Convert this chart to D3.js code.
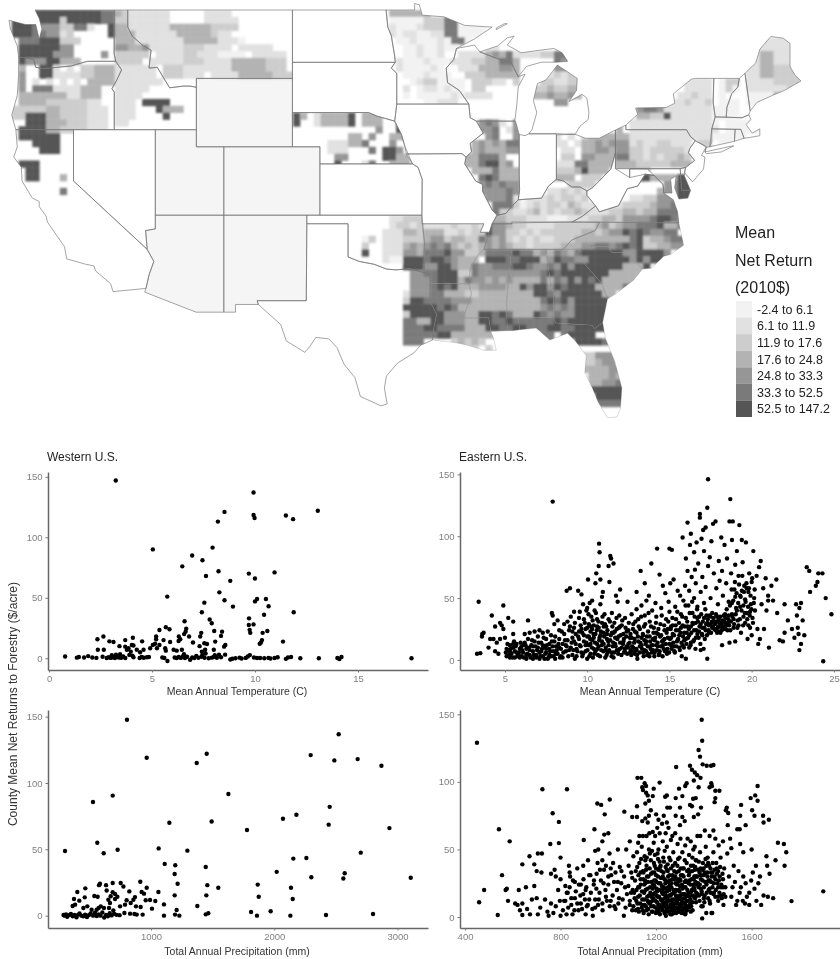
<!DOCTYPE html>
<html>
<head>
<meta charset="utf-8">
<script src="https://cdn.jsdelivr.net/npm/d3@7"></script>
<style>
html,body{margin:0;padding:0;background:#fff;}
svg{display:block;filter:blur(0.45px);}
text{font-family:"Liberation Sans",Arial,sans-serif;}
</style>
</head>
<body>
<div id="chart"></div>
<script>
//legend classes
var legendTitle = ["Mean","Net Return","(2010$)"];
var legendLabels = ["-2.4 to 6.1","6.1 to 11.9","11.9 to 17.6","17.6 to 24.8","24.8 to 33.3","33.3 to 52.5","52.5 to 147.2"];
var shades = ["#f2f2f2","#e1e1e1","#cdcdcd","#b3b3b3","#969696","#7a7a7a","#555555"];

//state outlines, lon/lat
var states = {
WA:[[-122.8,49],[-117.03,49],[-117.04,46.42],[-116.92,46],[-118.98,46],[-119.3,45.93],[-120.2,45.72],[-121.2,45.65],[-122.2,45.57],[-122.75,45.65],[-122.9,46.1],[-123.4,46.2],[-124,46.25],[-124.1,46.9],[-124.3,47.3],[-124.6,47.9],[-124.7,48.4],[-123.5,48.15],[-122.75,48.15],[-122.5,47.3],[-122.3,47.9],[-122.5,48.5]],
OR:[[-124,46.25],[-123.4,46.2],[-122.9,46.1],[-122.75,45.65],[-122.2,45.57],[-121.2,45.65],[-120.2,45.72],[-119.3,45.93],[-118.98,46],[-116.92,46],[-116.5,45.5],[-116.85,44.9],[-117.2,44.4],[-117.03,44.2],[-117.03,42],[-124.2,42],[-124.5,42.85],[-124.1,44],[-124,45.2]],
CA:[[-124.2,42],[-120,42],[-120,39],[-114.63,35],[-114.15,34.3],[-114.5,33.5],[-114.72,32.72],[-117.12,32.53],[-117.3,33],[-118.4,33.75],[-118.5,34.03],[-119.2,34.15],[-120.5,34.45],[-120.65,35.15],[-121.9,36.6],[-122,36.95],[-122.5,37.5],[-122.5,37.8],[-123,38],[-123.75,39],[-123.8,39.8],[-124.35,40.4],[-124.1,41]],
NV:[[-120,42],[-114.04,42],[-114.04,36.2],[-114.75,36.1],[-114.63,35],[-120,39]],
ID:[[-117.03,49],[-116.05,49],[-116.05,48],[-115.7,47.45],[-114.9,46.9],[-114.35,46.65],[-114.5,45.6],[-113.9,45.65],[-113.45,45.05],[-113,44.45],[-112,44.55],[-111.5,44.55],[-111.05,44.48],[-111.05,42],[-117.03,42],[-117.03,44.2],[-117.2,44.4],[-116.85,44.9],[-116.5,45.5],[-116.92,46],[-117.04,46.42]],
MT:[[-116.05,49],[-104.05,49],[-104.05,45],[-111.05,45],[-111.05,44.48],[-111.5,44.55],[-112,44.55],[-113,44.45],[-113.45,45.05],[-113.9,45.65],[-114.5,45.6],[-114.35,46.65],[-114.9,46.9],[-115.7,47.45],[-116.05,48]],
WY:[[-111.05,45],[-104.05,45],[-104.05,41],[-111.05,41]],
UT:[[-114.04,42],[-111.05,42],[-111.05,41],[-109.05,41],[-109.05,37],[-114.04,37]],
CO:[[-109.05,41],[-102.05,41],[-102.05,37],[-109.05,37]],
AZ:[[-114.04,37],[-109.05,37],[-109.05,31.33],[-111.07,31.33],[-114.81,32.5],[-114.72,32.72],[-114.5,33.5],[-114.15,34.3],[-114.63,35],[-114.75,36.1],[-114.04,36.2]],
NM:[[-109.05,37],[-103,37],[-103.04,32],[-106.62,32],[-106.53,31.78],[-108.2,31.78],[-108.2,31.33],[-109.05,31.33]],
ND:[[-104.05,49],[-97.23,49],[-97.1,48],[-96.85,47.5],[-96.6,46.3],[-96.56,45.94],[-104.05,45.94]],
SD:[[-104.05,45.94],[-96.56,45.94],[-96.85,45.6],[-96.45,45.3],[-96.45,43.5],[-96.6,42.5],[-97.9,42.8],[-98.5,43],[-104.05,43]],
NE:[[-104.05,43],[-98.5,43],[-97.9,42.8],[-96.6,42.5],[-96.1,41.7],[-95.85,41],[-95.3,40],[-102.05,40],[-102.05,41],[-104.05,41]],
KS:[[-102.05,40],[-95.3,40],[-94.9,39.8],[-94.6,39.1],[-94.62,37],[-102.05,37]],
OK:[[-103,37],[-94.62,37],[-94.43,35.4],[-94.48,33.64],[-95.5,33.88],[-96.5,33.8],[-97.2,33.85],[-98.1,34.13],[-99.2,34.3],[-100,34.56],[-100,36.5],[-103,36.5]],
TX:[[-103,36.5],[-100,36.5],[-100,34.56],[-99.2,34.3],[-98.1,34.13],[-97.2,33.85],[-96.5,33.8],[-95.5,33.88],[-94.48,33.64],[-94.04,33.55],[-94.04,33],[-94.04,32],[-93.55,31.2],[-93.75,30.4],[-93.85,29.7],[-94.7,29.4],[-95.2,28.95],[-96.4,28.35],[-97.2,27.6],[-97.35,26.9],[-97.15,25.96],[-97.6,25.85],[-99.1,26.4],[-99.5,27.5],[-100.3,28.3],[-100.8,29.25],[-101.4,29.77],[-102.35,29.85],[-102.8,29.3],[-103.15,28.98],[-104.5,29.65],[-104.9,30.6],[-106.53,31.78],[-106.62,32],[-103.04,32]],
MN:[[-97.23,49],[-95.15,49],[-95.15,49.38],[-94.8,49.3],[-94.6,48.7],[-93,48.6],[-91.5,48.1],[-89.5,48],[-90.8,47.3],[-92.1,46.75],[-92.3,46.1],[-92.85,45.6],[-92.75,44.75],[-91.9,44.3],[-91.2,43.5],[-96.45,43.5],[-96.45,45.3],[-96.85,45.6],[-96.56,45.94],[-96.6,46.3],[-96.85,47.5],[-97.1,48]],
WI:[[-92.1,46.75],[-90.8,46.95],[-90.4,46.55],[-89.1,46.15],[-88.1,45.9],[-87.6,45.1],[-87.1,45.25],[-87.6,44.5],[-87.7,43.5],[-87.85,42.5],[-90.65,42.5],[-91.1,42.7],[-91.2,43.5],[-91.9,44.3],[-92.75,44.75],[-92.85,45.6],[-92.3,46.1]],
IA:[[-96.45,43.5],[-91.2,43.5],[-91.1,42.7],[-90.65,42.5],[-90.15,41.8],[-91.1,41.2],[-91,40.7],[-91.4,40.4],[-91.7,40.6],[-95.75,40.58],[-95.85,41],[-96.1,41.7],[-96.6,42.5]],
MO:[[-95.75,40.58],[-91.7,40.6],[-91.4,40.4],[-91.5,40],[-90.7,39],[-90.2,38.8],[-90.2,38.4],[-89.5,37.3],[-89.15,37],[-89.5,36.5],[-89.7,36],[-90.37,36],[-90.1,36.5],[-94.62,36.5],[-94.62,37],[-94.6,39.1],[-94.9,39.8],[-95.3,40]],
AR:[[-94.62,36.5],[-90.1,36.5],[-90.37,36],[-89.7,36],[-90.1,35],[-90.6,34.6],[-91.1,33.9],[-91.2,33],[-94.04,33],[-94.04,33.55],[-94.48,33.64],[-94.43,35.4]],
LA:[[-94.04,33],[-91.2,33],[-91,32.4],[-91.6,31],[-89.75,31],[-89.6,30.2],[-89.4,29.8],[-89.2,29.1],[-90.1,29.1],[-91.3,29.4],[-92.2,29.55],[-93.85,29.7],[-93.75,30.4],[-93.55,31.2],[-94.04,32]],
MS:[[-90.1,35],[-88.2,35],[-88.1,34.9],[-88.45,31.9],[-88.4,30.25],[-89.6,30.2],[-89.75,31],[-91.6,31],[-91,32.4],[-91.2,33],[-91.1,33.9],[-90.6,34.6]],
AL:[[-88.2,35],[-85.6,35],[-85.2,32.85],[-85,32.3],[-85.05,31],[-87.6,31],[-87.5,30.3],[-88,30.25],[-88.4,30.25],[-88.45,31.9],[-88.1,34.9]],
GA:[[-85.6,35],[-83.1,35],[-83.35,34.7],[-82.5,33.9],[-81.5,33],[-81.1,32.1],[-81.45,30.72],[-82.05,30.36],[-82.2,30.57],[-84.86,30.7],[-85.05,31],[-85,32.3],[-85.2,32.85]],
FL:[[-87.6,31],[-85.05,31],[-84.86,30.7],[-82.2,30.57],[-82.05,30.36],[-81.45,30.72],[-81.25,29.8],[-80.55,28.4],[-80.05,26.9],[-80.15,25.7],[-80.4,25.2],[-81.1,25.15],[-81.8,26.1],[-82.2,26.9],[-82.75,27.8],[-82.65,28.8],[-83.4,29.6],[-84,30.1],[-85.3,29.7],[-86.3,30.4],[-87.5,30.3]],
SC:[[-83.35,34.7],[-83.1,35],[-82.3,35.2],[-81.05,35.15],[-80.8,34.82],[-79.67,34.8],[-78.55,33.85],[-79.2,33.2],[-80.5,32.4],[-81.1,32.1],[-81.5,33],[-82.5,33.9]],
NC:[[-84.32,35],[-83.1,35],[-82.3,35.2],[-81.05,35.15],[-80.8,34.82],[-79.67,34.8],[-78.55,33.85],[-77.9,33.9],[-77,34.6],[-76.5,34.7],[-75.55,35.25],[-75.9,36.55],[-81.68,36.59],[-82,36.1],[-83.7,35.55]],
TN:[[-90.1,35],[-84.32,35],[-83.7,35.55],[-82,36.1],[-81.68,36.59],[-83.68,36.6],[-88.07,36.55],[-88.07,36.5],[-89.5,36.5],[-89.7,36]],
KY:[[-89.5,36.5],[-88.07,36.5],[-88.07,36.6],[-83.68,36.6],[-82.9,36.95],[-81.97,37.54],[-82.6,38.17],[-82.6,38.42],[-83.1,38.65],[-83.7,38.65],[-84.3,39],[-84.82,39.1],[-85.4,38.7],[-85.9,38],[-86.8,37.95],[-87.6,37.9],[-88.1,37.5],[-88.5,37.1],[-89.15,37]],
VA:[[-83.68,36.6],[-75.9,36.55],[-76,37.2],[-76.3,37.9],[-77,38.3],[-77.05,38.8],[-77.7,39.32],[-78.35,39.4],[-78.9,38.7],[-79.65,38.55],[-80.3,37.55],[-81.68,37.2],[-81.97,37.54],[-82.9,36.95]],
WV:[[-81.97,37.54],[-81.68,37.2],[-80.3,37.55],[-79.65,38.55],[-78.9,38.7],[-78.35,39.4],[-77.7,39.32],[-78.2,39.7],[-79.48,39.7],[-79.48,39.2],[-80.52,39.72],[-80.52,40.63],[-80.85,39.7],[-81.7,39],[-82.2,38.6],[-82.6,38.42],[-82.6,38.17]],
OH:[[-84.82,41.7],[-83.45,41.73],[-82.7,41.5],[-81.7,41.5],[-80.52,41.98],[-80.52,40.63],[-80.85,39.7],[-81.7,39],[-82.2,38.6],[-82.6,38.42],[-83.1,38.65],[-83.7,38.65],[-84.3,39],[-84.82,39.1]],
IN:[[-87.53,41.72],[-87.1,41.65],[-86.82,41.76],[-84.82,41.76],[-84.82,39.1],[-85.4,38.7],[-85.9,38],[-86.8,37.95],[-87.6,37.9],[-87.5,38.5],[-87.53,39.3]],
IL:[[-90.65,42.5],[-87.8,42.5],[-87.53,41.72],[-87.53,39.3],[-87.5,38.5],[-87.6,37.9],[-88.1,37.5],[-88.5,37.1],[-89.15,37],[-89.5,37.3],[-90.2,38.4],[-90.2,38.8],[-90.7,39],[-91.5,40],[-91.4,40.4],[-91,40.7],[-91.1,41.2],[-90.15,41.8]],
MIL:[[-86.82,41.76],[-84.82,41.76],[-83.45,41.73],[-83.1,42.2],[-82.5,42.6],[-82.45,43],[-82.6,43.85],[-82.95,44.07],[-83.9,43.65],[-83.35,44.3],[-83.3,45],[-84.75,45.78],[-85.1,45.4],[-85.6,44.9],[-86.2,44.7],[-86.5,43.7],[-86.25,43],[-86.6,42]],
MIU:[[-90.4,46.55],[-89.1,46.9],[-88.4,47.37],[-87.9,47.47],[-88.4,46.95],[-87.4,46.5],[-86,46.65],[-85,46.75],[-84.4,46.5],[-84,46],[-84.8,45.95],[-85.9,45.95],[-87,45.7],[-87.6,45.1],[-88.1,45.9],[-89.1,46.15]],
MII:[[-89.2,47.85],[-88.4,48.2],[-88.6,48.2],[-89.2,47.95]],
PA:[[-80.52,41.98],[-79.76,42.27],[-79.76,42],[-75.35,42],[-75.05,41.6],[-74.7,41.36],[-75.1,40.9],[-75.2,40.65],[-74.75,40.2],[-75.4,39.8],[-75.8,39.72],[-80.52,39.72]],
NY:[[-79.76,42],[-79.76,42.27],[-78.9,42.9],[-79.05,43.27],[-76.8,43.3],[-76.2,43.55],[-76.3,44.1],[-75,44.95],[-74.7,45],[-73.35,45],[-73.4,43.6],[-73.25,42.75],[-73.5,42.05],[-73.5,41.3],[-73.65,41],[-73.9,40.97],[-74,40.7],[-72,41.05],[-71.9,41.05],[-72.8,40.7],[-73.9,40.6],[-74,40.7],[-73.9,41],[-74.7,41.36],[-75.05,41.6],[-75.35,42]],
NJ:[[-74.7,41.36],[-73.9,41],[-74.25,40.5],[-74,40.4],[-74.1,39.7],[-74.9,38.95],[-75.5,39.5],[-75.4,39.8],[-74.75,40.2],[-75.2,40.65],[-75.1,40.9]],
DE:[[-75.8,39.72],[-75.4,39.8],[-75.5,39.3],[-75.05,38.45],[-75.7,38.46]],
MD:[[-79.48,39.72],[-75.8,39.72],[-75.7,38.46],[-75.05,38.45],[-75.25,38],[-75.9,37.95],[-76.2,38.6],[-76.1,39.3],[-76.5,39.1],[-76.4,38.3],[-77,38.3],[-77.05,38.8],[-77.7,39.32],[-78.35,39.4],[-79.48,39.2]],
CT:[[-73.5,42.05],[-71.8,42.02],[-71.85,41.32],[-73.65,41]],
RI:[[-71.8,42.02],[-71.38,42.02],[-71.15,41.5],[-71.85,41.32]],
MA:[[-73.5,42.05],[-73.25,42.75],[-71.3,42.7],[-70.8,42.87],[-70.65,42.6],[-71,42.3],[-70.55,41.8],[-70,42.05],[-70,41.65],[-70.7,41.55],[-71.15,41.5],[-71.38,42.02]],
VT:[[-73.35,45],[-71.5,45],[-71.6,44.5],[-72.05,44.1],[-72.4,43.3],[-72.45,42.73],[-73.25,42.75],[-73.4,43.6]],
NH:[[-71.5,45],[-71.08,45.3],[-70.7,43.1],[-70.8,42.87],[-71.3,42.7],[-72.45,42.73],[-72.4,43.3],[-72.05,44.1],[-71.6,44.5]],
ME:[[-71.08,45.3],[-70.3,45.9],[-70,46.7],[-69.2,47.45],[-68.3,47.35],[-67.8,47.05],[-67.8,45.7],[-67.45,45.2],[-67,44.85],[-68.2,44.3],[-69.1,44],[-70.2,43.6],[-70.7,43.1]]
};
var paleStates = ["WY","UT","CO","AZ","NM"];
var noDataStates = ["ND","SD","NV","KS","IA","MO","IN","WV","NJ"];
var faintBorders = ["LA","MS","AL","GA","SC","AR","FL","NC"];

//county shading: class per half degree lon x 0.4 degree lat cell, . is no fill
var shadeWest = [-125,49,[
"....66666666665532111111.....1111",
".66666662666665522111111.....11111",
".6665444225 51..633111111333333222 2",
".66655441 2.....6333111111333332 11",
"..55566622 2.....333 1111111333331110",
"..66666644......44334111112221111.11111",
"..66666444....4.22222.1111221110000.11111",
"..644466333.....2222.11111222111133333222",
"..3..661.1.22333111111.222111111133333222",
"..4..66111122333111111.222111.111133333222",
"..4.1.1.1.1.3333 1111111",
"..4.55511113 33..11111",
"..33333331133 3..1111",
"..33332222221 1..111.6666",
".22222332222111.111...6333",
".22666332222111.111....6",
"...666333222111.11",
"..666633222 2111",
"..666666",
"....6666",
".....666",
"",
"..666",
"...66",
"...66...3",
"",
"........5"
].map(function(r){return r.replace(/ /g,"");})];
var shadeNebraska = [-104,43,[
"63.133336.333",
"6..133336.333..6",
"............4..6",
"........33.4..336",
".....111335...4",
".....111...5.664",
"......44.....6633",
"......6...15..333"
]];
var shadeLakes = [-97.5,49,[
".333333",
".00000222550000",
".10001222550000",
".10110011550000",
"..00100010550",
"...00100100....11",
"...00100 1..1111343511112 2555",
"..1000100011122335 53.....544",
"..1000010..111333443.....441",
"...0001000..222333 33....12122",
"....0122 0000.22211.2...221122",
"...1.0110100.22.......2232233",
"...0.00000101111......3343343",
"......00111..............44"
].map(function(r){return r.replace(/ /g,"");})];
var shadeIllinois = [-92,42.6,[
"...4541.4.",
"...445.14.",
"....45..4.",
"..3434355.",
"..3433344.",
".335553...",
".3356634",
"..3335333",
"...565333",
"...454544",
"...444454",
"....4445.",
".....555.",
".....5..."
]];
var shadeNewEngland = [-80,47.4,[
"....................11111",
"...................111111",
"...................133111",
"..................113311 1",
"..................11332222",
"..................11332222",
".........1111.022.11112222",
".........1111.020.1111112",
"........11211.0...000033",
".......112112.000.000",
"..455411111110000",
"..33226111111 0000",
".1111111111110.00000",
".1111111111111.00000",
"..........11100000",
"...........22.00"
].map(function(r){return r.replace(/ /g,"");})];
var shadeOhioPenn = [-85,42.2,[
".........3",
"1.1.233333 3111111111",
"11.1334344 41211221 11",
".11.334434 42212222 21",
".22.443335 52212122 32",
"1115533333 33222223 33",
"22236333.3 33 33......",
"333.222....66633336 6",
"..2222..........446 6",
"...............3446 6",
"...........11224446 6",
"........11222234456 6",
"......1122332335556"
].map(function(r){return r.replace(/ /g,"");})];
var shadeKentucky = [-89.5,38.6,[
"........112121",
"...10111212212",
".11201212213211",
"3221123121223211"
]];
var shadeOkPatch = [-99,35.8,["02","2.","6."]];
var shadeSouth = [-98,37,[
"..11222.........533222111000111223324444566543",
"..1221211112112164432211112222223423445556335 4",
".11133233311212264422121222222332344656544 55",
".11122234423322543 421212112223333333356233455",
".111343454532323434322122223334455456562233444",
".1114435556442235555655343543566666644 66664",
".10066656654333.666556663465544666666464666",
"....6664466433544 55566544 54646666666333 6",
".....445566622 54444444445656 6666663333 3",
".....44456663544 34343333535464 65633333",
".....4445656333 4444336466465 6666333355",
"....14445533322 333333336654 66666633",
"....2665555444 33 33333333565646666 63",
"....6666656533 3333333333454546 666665",
"....2666 66444 33 66565333 654544 66666",
"....5533664443 36655655555 5656 66666",
"....55566555533 3 6655665556 6556 6666",
"....55555663333333...... 55.56666",
"....555....23232.........5...66665",
".............22.2."
].map(function(r){return r.replace(/ /g,"");})];
var shadeFlorida = [-83,29,[
"22444","22344","333344",".33343",".33445",".666666","..66666","..55555"
]];
var shadeBlocks = [shadeWest,shadeNebraska,shadeLakes,shadeNewEngland,shadeOhioPenn,shadeKentucky,shadeIllinois,shadeOkPatch,shadeSouth,shadeFlorida];

//scatter values, flat x,y pairs
var westTemp = [3.24,147,9.93,137,8.52,121,8.2,113,13.05,122,11.5,118,11.85,115,9.93,118.5,9.98,116,5.04,90,7.94,91.5,6.95,85,7.45,81,6.47,76,8.23,72,7.62,68,9.7,70,10.95,71,10,66,8.8,64,5.74,51,8.27,54.5,8.52,48,7.54,46,8.93,42.7,10.1,49,10,47,10.53,49,10.66,43,10.44,36,7.42,38,11.88,38,9.71,33,6.58,30.6,7.8,32,7.9,29,9.7,27.5,9.93,28,9.74,23.5,9.77,21,10.6,22.5,10.37,21,5.67,25.6,5.85,24,5.36,23.4,6.66,24.5,6.63,22,6.56,20,8.02,22.6,8.4,22,8.35,18.5,7.39,21,7.34,18,6.3,18,6.8,18,2.64,18,2.35,15.7,2.93,14,3.13,13.5,3.7,15,4.07,17,4.52,14,5.2,18,5.2,15.7,5.56,15,6.29,14.3,6.37,15.7,5.88,13.5,8.07,13.8,6.99,13,7.54,12.4,7.67,11.8,7.31,10,8.56,11,8.5,9.6,11.36,13.8,10.34,15,10.29,13,10.23,12,3.42,10,3.7,9.6,4.02,11,3.86,8.3,4.1,10.5,3.78,7,3.97,5.5,4.26,7,4.42,5,4.59,7,2.37,7,2.66,7,4.91,8.3,5.04,11,5.15,12,5.36,11,5.24,8.3,5.64,8.3,5.67,6.3,6.05,7,6.45,7,6.2,6.3,8,7,7.58,7,7.42,5.5,
0.78,1.4,1.35,0.5,1.45,1,1.7,0.6,1.9,1.8,2.1,0.6,2.3,0.3,2.6,1.2,2.8,0.2,2.9,0.8,3,0.3,3.05,2.5,3.1,0.8,3.2,0.2,3.25,3,3.3,1.2,3.4,0.5,3.45,3.4,3.5,0.4,3.6,1.5,3.7,0.2,3.9,2.8,4.05,2.2,4.1,0.8,4.4,0.2,4.5,1,4.6,0.4,4.75,0.8,4.85,1,5.5,0.6,5.6,0.2,5.75,-2.2,6.1,0.6,6.2,0.2,6.3,1,6.4,0.3,6.5,1.6,6.55,3.4,6.6,0.2,6.7,1.2,6.85,-1.2,6.95,0.6,7.05,0.2,7.15,2,7.25,0.4,7.4,1.2,7.45,3,7.55,0.4,7.6,4,7.75,0,7.9,0.5,8,1,8.05,2.5,8.15,0.4,8.25,3,8.35,0.8,8.55,3,8.8,-1,8.9,-0.4,9.05,0,9.25,0.5,9.35,-0.2,9.55,0.3,9.65,1.5,9.75,2.6,9.95,0.6,10.1,0.2,10.25,0.2,10.45,0,10.65,0.3,10.75,-0.2,10.95,0.2,11.1,0.8,11.5,-0.5,11.6,0.6,11.75,1,12.2,0,13.1,0,14,0.2,14.1,-0.6,14.2,1,17.6,0];
var eastTemp = [3.3,5,3.5,5.5,3.4,47,3.6,19,3.62,21,3.7,22,4,10,4.1,17,4.2,36,4.3,17,4.4,27,4.4,7,4.5,14,4.6,5,4.7,30,4.7,17,4.8,28,4.9,44,4.9,25,5,18,5.1,3,5.2,34,5.2,8,5.3,2,5.3,12,5.4,5,5.5,31,5.5,21,5.5,10,5.6,2,5.6,7,5.7,13,5.8,4,5.9,9,6,3,6,11,6.1,6,6.2,14,6.2,21,6.3,1,6.3,9,6.4,32,6.4,17,6.5,4,6.5,22,6.6,12,6.7,1,6.7,7,6.8,23,6.8,15,6.9,4,7,10,7,19,7.1,1,7.1,24,7.2,7,7.2,14,7.3,22,7.3,3,7.4,1,7.4,11,7.5,17,7.5,6,7.6,23,7.6,1,7.7,13,7.7,9,7.8,3,7.8,20,7.85,38,7.9,36,7.9,128,7.95,7,8,15,8,29,8.05,1,8.1,11,8.2,5,8.2,32,8.3,17,8.3,24,8.4,9,8.4,3,8.5,13,8.6,21,8.6,29,8.7,7,8.75,56,8.8,31,8.8,16,8.9,24,8.95,58,9,10,9,35,9.1,4,9.1,18,9.2,39,9.2,26,9.25,1,9.3,13,9.3,21,9.4,7,9.45,56,9.5,34,9.5,17,9.55,39,9.6,28,9.6,11,9.65,53,9.7,3,9.7,22,9.75,45,9.8,15,9.8,33,9.9,7,9.9,25,9.95,40,10,19,10,42,10,1,10.05,65,10.1,12,10.1,29,10.15,46,10.2,5,10.2,23,10.25,35,10.3,48,10.3,16,10.35,2,10.4,28,10.4,9,10.45,40,10.5,62,10.5,21,10.55,70,10.6,33,10.6,13,10.65,4,10.7,26,10.7,76,10.72,94,10.75,87,10.75,18,10.8,45,10.8,65,10.85,8,10.9,30,10.9,51,10.95,55,11,22,11,13,11.05,37,11.1,2,11.15,27,11.2,17,11.25,6,11.3,33,11.3,76,11.35,63,11.4,84,11.45,82,11.5,22,11.5,38,11.55,11,11.6,78,11.6,2,11.65,30,11.7,18,11.75,52,11.8,25,11.85,47,11.9,8,11.95,36,12,57,12,14,12.1,28,12.2,21,12.25,6,12.3,34,12.4,11,12.45,47,12.5,24,12.6,18,12.65,8,12.7,37,12.8,29,12.85,14,12.9,5,13,41,13,55,13,22,13.05,1,13.1,33,13.2,11,13.25,72,13.3,44,13.3,18,13.4,6,13.45,27,13.5,36,13.5,62,13.55,13,13.6,48,13.65,4,13.7,23,13.75,52,13.8,31,13.85,9,13.9,78,13.95,40,14,17,14.05,26,14.1,6,14.15,46,14.2,35,14.2,12,14.25,90,14.3,21,14.35,4,14.4,69,14.45,29,14.5,42,14.55,15,14.6,60,14.65,9,14.7,24,14.75,54,14.8,33,14.85,5,14.9,18,14.95,47,15,90,15,39,15.05,62,15.1,27,15.1,12,15.15,89,15.2,21,15.25,65,15.3,7,15.35,43,15.4,33,15.45,15,15.5,56,15.55,24,15.6,10,15.65,52,15.7,37,15.75,3,15.8,99,15.8,28,15.85,48,15.9,16,15.95,60,16,1,16,34,16,82,16.05,22,16.1,72,16.1,111,16.15,44,16.2,10,16.2,56,16.25,93,16.3,27,16.3,102,16.35,67,16.4,38,16.45,15,16.5,87,16.5,50,16.55,73,16.6,30,16.6,62,16.65,95,16.7,21,16.7,43,16.75,78,16.8,35,16.85,115,16.85,118,16.9,8,16.9,55,16.95,98,17,26,17,67,17.05,105,17.1,46,17.1,88,17.15,17,17.2,59,17.2,107,17.25,36,17.3,1,17.3,123,17.35,146,17.35,76,17.4,28,17.45,83,17.5,50,17.55,96,17.6,38,17.65,110,17.7,70,17.75,31,17.8,112,17.85,58,17.9,22,17.95,45,18,80,18,33,18.05,64,18.1,27,18.15,99,18.2,12,18.2,72,18.25,52,18.3,36,18.35,93,18.4,25,18.45,62,18.5,82,18.55,30,18.6,47,18.65,112,18.65,14,18.7,130,18.75,70,18.8,37,18.8,97,18.85,112,18.9,26,18.95,57,19,77,19,15,19.05,42,19.1,88,19.15,32,19.2,68,19.25,109,19.3,52,19.35,22,19.4,97,19.45,79,19.5,44,19.55,60,19.6,30,19.65,95,19.7,38,19.75,17,19.8,55,19.85,70,19.9,26,19.95,45,20,63,20,20,20.05,34,20.1,88,20.15,50,20.2,40,20.3,68,20.35,25,20.4,13,20.45,75,20.5,17,20.55,80,20.6,45,20.7,58,20.75,25,20.85,66,20.9,40,21,52,21,48,21.05,10,21.2,60,21.3,48,21.5,65,21.55,38,21.7,16,21.9,15,22,45,22,22,22.2,32,22.45,25,22.6,18,22.7,45,22.75,36,22.8,26,22.85,21,22.9,42,22.9,8,23,46,23,13,23.1,32,23.2,20,23.35,75,23.5,72,23.55,55,23.9,60,24,63,24.05,70,24.3,70,24.5,50,24.85,37,24.35,-1];
var eastTempMass = [5.05,6,5.15,13,5.25,4,5.35,9,5.45,2,5.55,15,5.65,11,5.75,3,5.85,6,5.95,14,6.05,8,6.15,2,6.25,12,6.35,5,6.45,10,6.55,2,6.65,16,6.75,4,6.85,11,6.95,8,7.05,14,7.15,3,7.25,9,7.35,18,7.45,5,7.55,12,7.65,2,7.75,7,7.85,15,7.95,3,8.05,19,8.15,8,8.25,13,8.35,2,8.45,23,8.55,6,8.65,16,8.75,11,8.85,3,8.95,27,9.05,14,9.15,8,9.25,30,9.35,3,9.45,19,9.55,12,9.65,25,9.75,5,9.85,30,9.95,14,10.02,8,10.08,37,10.13,3,10.18,17,10.23,27,10.28,10,10.33,32,10.38,21,10.43,5,10.48,14,10.53,38,10.58,24,10.63,9,10.68,31,10.73,16,10.78,3,10.83,23,10.88,12,10.93,35,10.98,7,11.03,19,11.08,29,11.13,10,11.18,4,11.23,24,11.28,15,11.33,8,11.38,31,11.43,20,11.48,3,11.53,27,11.58,14,11.63,6,11.68,23,11.73,11,11.78,34,11.83,17,11.88,5,11.93,26,11.98,9,12.03,20,12.08,4,12.13,32,12.18,13,12.23,17,12.28,7,12.33,26,12.38,19,12.43,5,12.48,10,12.53,30,12.58,14,12.63,21,12.68,4,12.73,11,12.78,25,12.83,7,12.88,17,12.93,31,12.98,9,13.03,4,13.08,19,13.13,27,13.18,6,13.23,14,13.28,35,13.33,9,13.38,21,13.43,3,13.48,16,13.53,29,13.58,7,13.63,19,13.68,11,13.73,38,13.78,3,13.83,15,13.88,27,13.93,6,13.98,12,14.03,22,14.08,3,14.13,18,14.18,30,14.23,8,14.28,14,14.33,25,14.38,5,14.43,19,14.48,11,14.53,36,14.58,3,14.63,16,14.68,28,14.73,7,14.78,13,14.83,22,14.88,9,14.93,31,14.98,6,15.03,17,15.08,25,15.13,9,15.18,34,15.23,14,15.28,20,15.33,6,15.38,28,15.43,11,15.48,39,15.53,17,15.58,30,15.63,8,15.68,22,15.73,14,15.78,35,15.83,19,15.88,10,15.93,27,15.98,44,16.03,13,16.08,31,16.13,18,16.18,25,16.23,38,16.28,12,16.33,22,16.38,47,16.43,29,16.48,16,16.53,35,16.58,9,16.63,24,16.68,41,16.73,31,16.78,18,16.83,27,16.88,13,16.93,37,16.98,21,17.03,31,17.08,9,17.13,26,17.18,41,17.23,29,17.28,20,17.33,33,17.38,24,17.43,36,17.48,29,17.53,22,17.58,31,17.63,27,17.68,34,17.73,25,17.78,29,17.83,37,17.88,31,17.93,26,17.98,23,18.03,30,18.08,35,18.13,28,18.18,24,18.23,32,18.28,27,18.33,31,18.38,37,18.43,29,18.48,41,18.53,24,18.58,33,18.63,28,18.68,44,18.73,31,18.78,57,18.83,35,18.88,48,18.93,29,18.98,63,19.03,37,19.08,54,19.13,26,19.18,46,19.23,61,19.28,33,19.33,51,19.38,40,19.43,68,19.48,28,19.53,55,19.58,38,19.63,47,19.68,62,19.73,33,19.78,43,19.83,58,19.88,36,19.93,52,19.98,41,20.03,66,20.08,30,20.13,46,20.18,57,
5.1,9,5.3,7,5.5,13,5.7,6,5.9,2,6.1,12,6.3,4,6.5,8,6.7,11,6.9,2,7.1,6,7.3,12,7.5,9,7.7,4,7.9,11,8.1,5,8.3,10,8.5,2,8.7,12,8.9,8,9.1,23,9.2,15,9.35,9,9.5,23,9.65,6,9.8,20,9.9,12,10,26,10.1,19,10.2,13,10.3,25,10.4,18,10.5,7,10.6,27,10.7,11,10.8,20,10.9,15,11,27,11.1,8,11.2,21,11.3,12,11.4,16,11.5,6,11.6,22,11.7,13,11.8,8,11.9,19,12,27,12.1,10,12.2,15,12.3,9,12.4,23,12.5,13,12.6,6,12.7,18,12.8,10,12.9,23,13,8,13.1,15,13.2,25,13.3,12,13.4,20,13.5,8,13.6,15,13.7,5,13.8,19,13.9,12,14,8,14.1,16,14.2,22,14.3,11,14.4,7,14.5,20,14.6,12,14.7,17,14.8,8,14.9,25,15,13,15.1,18,15.2,28,15.3,11,15.4,24,15.5,16,15.6,20,15.7,26,15.8,12,15.9,22,16,17,16.1,27,16.2,20,16.3,14,16.4,30,16.5,24,16.6,18,16.7,34,16.8,23,16.9,29,17,20,17.1,34,17.2,24,17.3,30,17.4,22,17.5,35,17.6,26,17.7,30,17.8,24,17.9,35,18,27,18.1,22,18.2,30,18.3,25,18.4,34,18.5,28,18.6,36,18.7,24,18.8,46,18.9,33,19,51,19.1,40,19.2,28,19.3,43,19.4,56,19.5,35,19.6,49,19.7,58,19.8,28,19.9,39];
var westPrecip = [302,48.7,805,147.7,529,85.7,689,90.5,564,55,616,47,729,49.7,965,119,1371,115,1452,122,2523,136.7,2296,121,2488,117,2677,118,2870,113,1628,91.7,2450,82,2180,76,2071,73,2442,68.6,1492,71,1149,70,1779,64.6,2935,66,1062,50.7,1295,49,2702,47.5,2261,43.5,2155,43,1111,39,1197,38,1444,36.7,1192,31.4,2020,33,2301,29,2572,32,2561,28,3108,28.6,1216,24,1457,23,1866,23.4,1546,21,2136,21,1192,15.3,1449,15.3,1874,14.3,2150,12.6,1060,17.8,1105,8.5,1376,7.3,1208,4.3,1812,2.8,1971,3.3,1105,0,1195,0.8,1230,0,1444,1,1465,1.8,1860,0,2131,0,2420,0.5,2802,1.3,
913,25.6,965,21,689,24.6,754,24.6,776,22,578,23,635,23,586,24,467,20.6,402,17.8,540,14.8,567,14.3,462,13.8,375,12.6,418,11.3,384,8.3,364,7.3,640,19,824,18.3,689,17.6,708,16.3,727,14.3,673,14.6,654,12,708,12.6,667,9.5,870,14,857,12,802,11.6,835,9.5,789,8.3,749,7,924,17.8,943,16.6,957,11.6,992,11.8,1035,11,1008,5.3,916,6.5,878,7,575,5.8,483,7,451,5.8,518,4.5,559,4.5,592,7,618,5.8,659,5.8,694,4,784,2,830,1.5,865,1.3,932,0.8,884,0.8,
290,0.5,300,0,310,1,320,-0.8,335,0.4,350,1.2,365,-0.4,380,0.6,395,-1.2,410,0.8,420,1.6,435,0,450,-0.4,465,0.8,480,-1,495,0.4,510,1.6,530,0,545,2.2,560,-0.2,575,1,590,0,605,2.4,620,-1.4,635,0.6,650,-0.4,665,1.8,680,0.2,700,1.4,720,0.6,745,0.4];
var eastPrecip = [450,129,542,65,587,56,459,11,480,20,537,1.5,724,94.6,827,94.6,767,76.8,793,70.4,757,54,793,54.7,1900,19,1767,11.8,1391,146,1393,130.5,1378,123.6,1384,118.7,1395,113,1412,112,1430,112,1440,112.5,1284,111,1342,112,1350,109,1362,107,1372,105,1386,103,1358,101,1122,103,1138,103,1215,99.5,1328,99,1322,97,1296,95,1378,96,1431,99,1434,97,1424,96,1448,93.5,1465,93.5,1100,74,1152,99,1158,97,1142,96,1145,94,1158,92,1190,95,1165,90,1186,89.5,1238,89,1245,90,1282,88,1310,89.5,1355,87.5,1366,88,1445,85,1448,88,1006,87,954,84,970,83,1625,97,1615,90,1596,88,1625,86,1556,83,1602,79,1612,75,1648,75,1650,70,1672,72,1552,75,1575,68,1540,65,1550,65,1500,68,1496,81,1492,79,1502,77,1067,78,985,76,1120,82,1155,84,1170,86,1120,74,1200,76,1178,79,1170,75,1155,73,1142,71,1165,70,1210,72,1225,69,1232,75,1247,81,1258,81,1282,75,1300,81,1310,74,1342,83,1350,82,1388,81,1376,76,1358,74,1320,71,1300,68,1252,66,1245,70,1215,62,1205,66,1196,60,1186,63,1172,62,1160,60,1145,60,1130,60,1125,55,1240,62,1262,57,1280,62,1302,58,1322,53,1345,56,1362,52,1385,60,1404,64,1424,60,1440,64,1448,58,1462,53,1480,56,1510,58,1515,51,1552,54,1565,48,1600,50,1662,45,1618,38,1665,38,1675,32,1700,42,1710,55,1735,54,1745,48,1738,38,942,65,983,61,1000,62,975,56,897,57,1040,50,1075,50,1090,56,1005,47,945,49,958,50,955,40,975,42,990,38,1010,36,1030,33,915,42,895,38,870,36,835,38,838,33,640,39,670,45,705,47,722,47,690,39,700,34,720,33,775,35,780,30,760,32,800,44,
800,28,820,23,840,30,860,26,885,24,905,20,925,31,940,27,950,21,965,35,980,25,1000,30,1020,40,1040,26,1055,34,1070,22,1085,38,1100,29,1105,45,1115,34,1120,48,1125,22,1130,40,1135,28,1140,52,1145,34,1150,18,1152,45,1155,25,1160,38,1165,12,1168,30,1170,50,1175,22,1178,42,1180,8,1185,33,1188,17,1190,55,1192,27,1195,46,1198,12,1200,36,1203,21,1205,5,1208,30,1210,50,1212,15,1215,41,1218,25,1220,8,1222,34,1225,18,1228,56,1230,44,1232,11,1235,28,1238,4,1240,37,1242,21,1245,52,1248,14,1250,30,1252,7,1255,44,1258,24,1260,2,1262,36,1265,17,1268,60,1270,10,1272,48,1275,28,1278,4,1280,40,1282,20,1285,33,1288,12,1290,54,1292,26,1295,6,1298,44,1300,16,1303,36,1306,9,1308,24,1310,48,1312,3,1315,30,1318,14,1320,42,1323,22,1326,6,1330,34,1332,58,1335,18,1338,46,1340,27,1343,10,1346,38,1350,20,1353,5,1356,50,1360,30,1363,14,1366,42,1370,24,1373,60,1376,35,1380,16,1384,48,1388,28,1390,8,1393,-1,1396,40,1400,22,1404,33,1408,52,1412,18,1416,44,1420,27,1424,12,1428,36,1432,3,1436,22,1440,48,1444,30,1448,15,1452,40,1456,25,1460,34,1465,18,1470,44,1475,14,1480,28,1485,36,1490,22,1498,47,1505,30,1515,15,1525,38,1530,26,1540,12,1545,34,1555,22,1565,30,1572,10,1580,15,1590,9,1598,27,1605,33,1612,21,1620,12,1628,25,1635,30,1640,9,1650,16,1668,15,1690,14,
1105,8,1110,14,1115,5,1118,20,1122,10,1126,31,1128,4,1132,16,1136,24,1140,7,1142,13,1146,28,1148,3,1152,9,1156,20,1158,35,1160,5,1163,15,1166,26,1169,2,1172,10,1176,18,1179,32,1182,4,1184,12,1187,24,1190,8,1194,38,1196,18,1199,3,1201,26,1204,11,1207,15,1209,35,1211,6,1214,20,1216,2,1219,29,1221,13,1224,23,1226,5,1229,17,1231,33,1234,8,1236,14,1239,25,1241,1,1244,11,1246,19,1249,34,1251,4,1254,12,1256,27,1259,7,1261,16,1264,22,1266,2,1269,31,1271,9,1274,18,1276,13,1279,6,1281,25,1284,3,1286,15,1289,38,1291,10,1294,20,1296,4,1299,28,1301,8,1304,13,1307,3,1309,17,1311,31,1314,6,1316,22,1319,10,1322,2,1324,15,1327,26,1329,5,1333,12,1336,35,1339,7,1342,18,1345,4,1348,28,1352,11,1355,38,1358,22,1362,35,1365,26,1368,18,1372,30,1378,22,1382,12,1386,36,1392,17,1398,31,1402,11,1406,26,1410,38,1415,30,1420,20,1426,10,1430,33,1435,3,
555,31,570,20,575,21,580,12,610,10,640,10,620,9,625,20,630,5,640,1.5,655,22,660,6,672,2,680,13,690,23,700,14,705,2,715,7,735,13,745,4,750,1,760,10,770,3,780,8,790,20,797,12,800,1,810,5,815,12,825,2,830,18,845,9,850,2,860,14,875,5,885,10,895,17,905,2,910,8,920,13,935,1,945,7,960,13,975,10,990,15,1010,12,1025,8,1045,14,1065,1,1090,9,1095,18,1100,5,1410,3,1395,8,1440,17,1460,12,1472,22,1482,9,1490,15,1520,22,1535,9,1550,18,1563,12,1575,25,1590,18];
var eastPrecipMass = [1108,18,1112,27,1117,12,1121,37,1124,6,1129,22,1133,10,1137,43,1141,19,1144,5,1147,33,1151,13,1154,27,1157,8,1161,44,1164,21,1167,6,1170,16,1173,36,1177,11,1181,26,1183,49,1186,4,1189,14,1191,40,1193,23,1197,7,1200,31,1202,16,1206,47,1209,9,1211,25,1213,3,1217,37,1220,13,1223,29,1225,7,1227,20,1230,10,1233,41,1235,3,1237,18,1240,27,1243,6,1245,35,1247,12,1250,22,1253,4,1255,16,1257,31,1260,9,1263,25,1265,5,1267,13,1270,38,1273,20,1275,3,1277,10,1280,30,1283,16,1285,7,1287,24,1290,13,1293,4,1295,34,1297,19,1300,9,1302,27,1305,14,1308,5,1310,21,1313,11,1316,36,1318,7,1320,17,1323,3,1325,27,1328,12,1331,20,1334,8,1337,31,1340,15,1344,24,1347,8,1351,34,1354,16,1357,28,1361,20,1364,37,1367,11,1371,30,1375,17,1379,41,1383,24,1387,31,1391,19,1395,27,1399,36,1403,16,1407,43,1411,24,1414,33,1418,14,1422,38,1425,27,1429,18,1433,30,1437,40,1441,25,1445,35,1450,20,1455,32,1459,15,1463,27,1468,37,1473,24,1478,32,1483,17,
820,12,826,18,832,7,838,22,845,14,852,27,858,5,864,19,870,10,877,24,883,16,890,6,896,28,902,13,908,22,914,9,920,31,927,18,933,6,939,24,945,13,951,32,957,9,963,18,969,27,976,5,982,35,988,20,994,12,1000,24,1006,8,1012,31,1018,16,1024,26,1030,6,1036,20,1042,10,1048,37,1054,25,1060,13,1066,30,1072,7,1078,17,1084,23,1090,12,1096,33,1102,20,
1125,15,1135,33,1143,9,1150,24,1155,42,1162,30,1168,11,1174,47,1180,15,1186,21,1192,33,1198,27,1204,19,1208,43,1214,9,1219,38,1224,12,1228,30,1232,22,1236,49,1240,16,1244,9,1248,39,1252,26,1256,20,1260,42,1264,12,1268,28,1272,7,1276,34,1280,19,1284,10,1288,28,1292,43,1296,14,1300,23,1304,31,1308,11,1312,36,1316,17,1320,26,1324,9,1328,40,1332,16,1336,25,1340,33,1344,13,1348,19,1352,44,1356,24,1360,15,1364,30,1368,42,1372,16,1376,25,1382,33,1388,21,1394,35,1400,14,1406,32,1412,26,1418,40,1424,21,1430,26,1436,33,1442,18,1448,28,1454,36,1460,22,1466,30,1472,16,1480,22];

var width = 840, height = 959;
var svg = d3.select("#chart").append("svg").attr("width",width).attr("height",height);
var defs = svg.append("defs");
defs.append("filter").attr("id","soft").attr("x","-5%").attr("y","-5%").attr("width","110%").attr("height","110%")
	.append("feGaussianBlur").attr("stdDeviation",1);

//map
var mapX = d3.scaleLinear().domain([-124.7,-67]).range([9,801]);
var mapY = d3.scaleLinear().domain([49,25]).range([10,420.4]);
var mapPath = d3.geoPath(d3.geoTransform({point:function(lon,lat){this.stream.point(mapX(lon),mapY(lat));}}));
function stateShape(code){return {type:"Polygon",coordinates:[states[code].concat([states[code][0]])]};}
var codes = Object.keys(states);

svg.append("clipPath").attr("id","landclip").selectAll("path").data(codes).enter().append("path")
	.attr("d",function(d){return mapPath(stateShape(d));});

var map = svg.append("g");
map.selectAll("path.base").data(paleStates).enter().append("path").attr("class","base")
	.attr("d",function(d){return mapPath(stateShape(d));}).attr("fill","#f5f5f5");

var cells = [];
shadeBlocks.forEach(function(block){
	block[2].forEach(function(row,r){
		row.split("").forEach(function(ch,c){
			if(ch!="."){ cells.push({lon:block[0]+c*0.5, lat:block[1]-r*0.4, cls:+ch}); }
		});
	});
});
map.append("g").attr("clip-path","url(#landclip)").append("g").attr("filter","url(#soft)").selectAll("rect").data(cells).enter().append("rect")
	.attr("x",function(d){return mapX(d.lon);})
	.attr("y",function(d){return mapY(d.lat);})
	.attr("width",function(d){return mapX(d.lon+0.5)-mapX(d.lon)+0.4;})
	.attr("height",function(d){return mapY(d.lat-0.4)-mapY(d.lat)+0.4;})
	.attr("fill",function(d){return shades[d.cls];});

map.selectAll("path.nodata").data(noDataStates).enter().append("path").attr("class","nodata")
	.attr("d",function(d){return mapPath(stateShape(d));}).attr("fill","#fff");
map.selectAll("path.border").data(codes).enter().append("path").attr("class","border")
	.attr("d",function(d){return mapPath(stateShape(d));})
	.attr("fill","none").attr("stroke","#707070")
	.attr("stroke-opacity",function(d){return faintBorders.indexOf(d)>=0 ? 0.3 : 0.75;})
	.attr("stroke-width",0.85).attr("stroke-linejoin","round");

//legend
var legend = svg.append("g");
legend.selectAll("text.ltitle").data(legendTitle).enter().append("text").attr("class","ltitle")
	.attr("x",735).attr("y",function(d,i){return 238+i*27.5;})
	.attr("font-size",16).attr("fill","#222").text(function(d){return d;});
var swatchY = d3.scaleBand().domain(d3.range(legendLabels.length)).range([301,417]);
legend.selectAll("rect").data(legendLabels).enter().append("rect")
	.attr("x",736).attr("y",function(d,i){return swatchY(i);})
	.attr("width",16).attr("height",swatchY.bandwidth())
	.attr("fill",function(d,i){return shades[i];});
legend.selectAll("text.llab").data(legendLabels).enter().append("text").attr("class","llab")
	.attr("x",757).attr("y",function(d,i){return swatchY(i)+swatchY.bandwidth()/2+4.5;})
	.attr("font-size",12.5).attr("fill","#222").text(function(d){return d;});

//scatter panels
function panel(cfg){
	var x = d3.scaleLinear().domain(cfg.xd).range([cfg.left,cfg.right]);
	var y = d3.scaleLinear().domain(cfg.yd).range([cfg.bottom,cfg.top]);
	var g = svg.append("g");
	var ax = g.append("g").attr("transform","translate(0,"+cfg.bottom+")").call(d3.axisBottom(x).tickValues(cfg.xt).tickFormat(d3.format("d")).tickSize(2.5).tickSizeOuter(0));
	var ay = g.append("g").attr("transform","translate("+cfg.left+",0)").call(d3.axisLeft(y).tickValues([0,50,100,150]).tickSize(2.5).tickSizeOuter(0));
	[ax,ay].forEach(function(a){
		a.select(".domain").attr("stroke","#666").attr("stroke-width",1.5);
		a.selectAll(".tick line").attr("stroke","#777");
		a.selectAll("text").attr("fill","#808080").attr("font-size",9.5).attr("font-family",'"Liberation Sans",Arial,sans-serif');
	});
	var pts = d3.range(0,cfg.data.length,2).map(function(i){return [cfg.data[i],cfg.data[i+1]];});
	g.selectAll("circle").data(pts).enter().append("circle")
		.attr("cx",function(d){return x(d[0]);}).attr("cy",function(d){return y(d[1]);})
		.attr("r",2.2).attr("fill","#000");
	g.append("text").attr("x",cfg.xtitleX).attr("y",cfg.xtitleY).attr("text-anchor","middle")
		.attr("font-size",10.5).attr("fill","#333").text(cfg.xtitle);
	if(cfg.title){
		g.append("text").attr("x",cfg.left-1).attr("y",461).attr("font-size",12).attr("fill","#222").text(cfg.title);
	}
}
panel({data:westTemp,xd:[-0.05,18.4],yd:[-9.7,154],left:48,right:428,top:472,bottom:670,xt:[0,5,10,15],
	title:"Western U.S.",xtitle:"Mean Annual Temperature (C)",xtitleX:237,xtitleY:695});
panel({data:eastTemp.concat(eastTempMass),xd:[2.265,25.37],yd:[-8.1,151.9],left:460,right:840,top:472,bottom:670,xt:[5,10,15,20,25],
	title:"Eastern U.S.",xtitle:"Mean Annual Temperature (C)",xtitleX:650,xtitleY:695});
panel({data:westPrecip,xd:[164,3248],yd:[-9.3,155],left:48,right:428,top:710,bottom:928,xt:[1000,2000,3000],
	xtitle:"Total Annual Precipitation (mm)",xtitleX:237,xtitleY:955});
panel({data:eastPrecip.concat(eastPrecipMass),xd:[379,1970],yd:[-8.1,153.2],left:460,right:840,top:710,bottom:928,xt:[400,800,1200,1600],
	xtitle:"Total Annual Precipitation (mm)",xtitleX:650,xtitleY:955});

svg.append("text").attr("transform","translate(17,704) rotate(-90)").attr("text-anchor","middle")
	.attr("font-size",12).attr("fill","#333").text("County Mean Net Returns to Forestry ($/acre)");
</script>
</body>
</html>
